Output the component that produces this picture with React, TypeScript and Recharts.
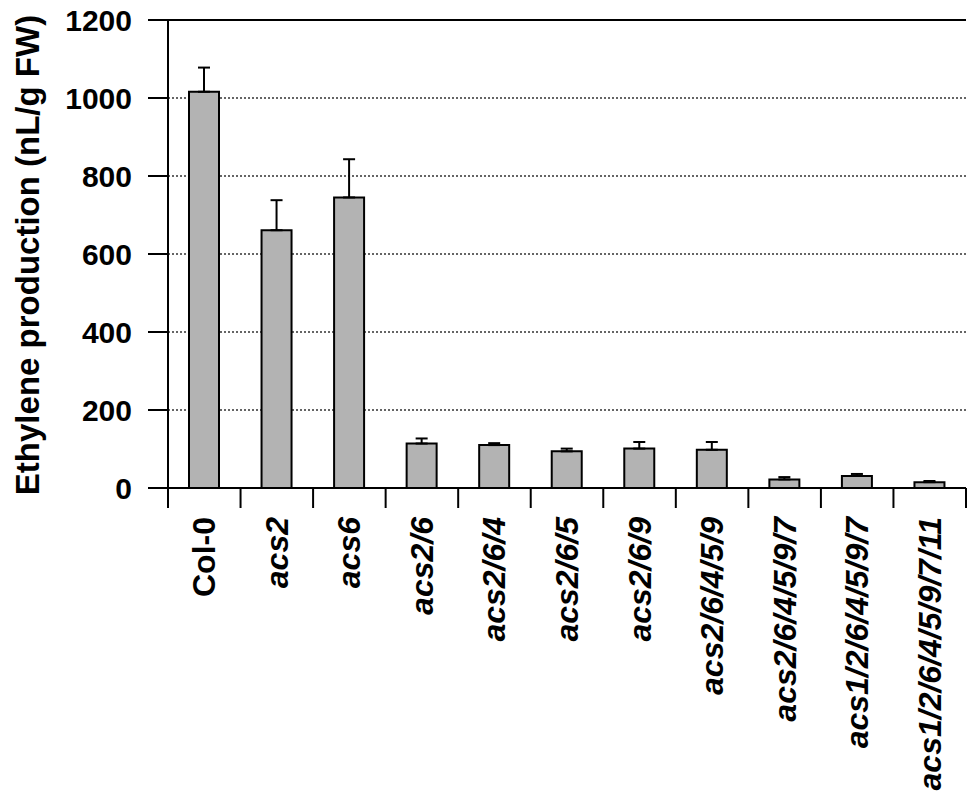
import {
  BarChart,
  Bar,
  XAxis,
  YAxis,
  CartesianGrid,
  ErrorBar,
  ReferenceLine,
} from "recharts";

const genotypes = [
  "Col-0",
  "acs2",
  "acs6",
  "acs2/6",
  "acs2/6/4",
  "acs2/6/5",
  "acs2/6/9",
  "acs2/6/4/5/9",
  "acs2/6/4/5/9/7",
  "acs1/2/6/4/5/9/7",
  "acs1/2/6/4/5/9/7/11",
];

const ethylene = [1016, 661, 745, 114, 110, 94, 101, 98, 22, 31, 15];
const sem = [62, 77, 98, 13, 5, 7, 17, 20, 6, 5, 3];
const yTicks = [0, 200, 400, 600, 800, 1000, 1200];

const data = genotypes.map((name, i) => ({
  name,
  value: ethylene[i],
  err: [0, sem[i]],
}));

const W = 979;
const H = 800;
const LEFT = 168;
const RIGHT = 13;
const TOP = 20;
const BAND = (W - LEFT - RIGHT) / genotypes.length;
const FONT = "'Liberation Sans', Arial, sans-serif";

function CategoryTick(props: any) {
  const { x, y, payload, index } = props;
  const label: string = payload.value;
  const italic = label.startsWith("acs");
  const last = index === genotypes.length - 1;
  return (
    <g>
      <line x1={x - BAND / 2} x2={x - BAND / 2} y1={y - 30} y2={y - 10} stroke="#000" strokeWidth={2} />
      {last && (
        <line x1={x + BAND / 2} x2={x + BAND / 2} y1={y - 30} y2={y - 10} stroke="#000" strokeWidth={2} />
      )}
      <text
        transform={`translate(${x},${y - 1}) rotate(-90)`}
        textAnchor="end"
        dominantBaseline="central"
        fontSize={32}
        fontWeight={700}
        fontStyle={italic ? "italic" : "normal"}
        fill="#000"
      >
        {label}
      </text>
    </g>
  );
}

function YLabel(props: any) {
  const vb = props.viewBox;
  const cy = vb.y + vb.height / 2;
  return (
    <text
      transform={`translate(${vb.x + 27},${cy + 1}) rotate(-90)`}
      textAnchor="middle"
      dominantBaseline="central"
      fontSize={33}
      fontWeight={700}
      fill="#000"
    >
      Ethylene production (nL/g FW)
    </text>
  );
}

export default function App() {
  return (
    <div style={{ position: "absolute", left: 0, top: 0, fontFamily: FONT, background: "#fff" }}>
      <BarChart
        width={W}
        height={H}
        data={data}
        margin={{ top: TOP, right: RIGHT, bottom: 0, left: 0 }}
      >
        <CartesianGrid
          yAxisId="left"
          vertical={false}
          stroke="#333"
          strokeWidth={1.5}
          strokeDasharray="2 2"
        />
        <XAxis
          dataKey="name"
          height={312}
          interval={0}
          tickSize={20}
          tickMargin={10}
          tickLine={false}
          axisLine={{ stroke: "#000", strokeWidth: 2 }}
          tick={<CategoryTick />}
        />
        <YAxis
          yAxisId="left"
          width={LEFT}
          domain={[0, 1200]}
          ticks={yTicks}
          interval={0}
          tickSize={20}
          tickMargin={16}
          axisLine={{ stroke: "#000", strokeWidth: 2 }}
          tickLine={{ stroke: "#000", strokeWidth: 2 }}
          tick={{ fontSize: 30, fontWeight: 700, fill: "#000" }}
          label={{ content: YLabel }}
        />
        <YAxis
          yAxisId="right"
          orientation="right"
          width={0}
          tick={false}
          tickLine={false}
          axisLine={{ stroke: "#000", strokeWidth: 2 }}
        />
        <ReferenceLine yAxisId="left" y={1200} stroke="#000" strokeWidth={2} />
        <Bar
          yAxisId="left"
          dataKey="value"
          barSize={30}
          fill="#b3b3b3"
          stroke="#000"
          strokeWidth={2}
          isAnimationActive={false}
        >
          <ErrorBar dataKey="err" width={6} stroke="#000" strokeWidth={2} direction="y" />
        </Bar>
      </BarChart>
    </div>
  );
}
